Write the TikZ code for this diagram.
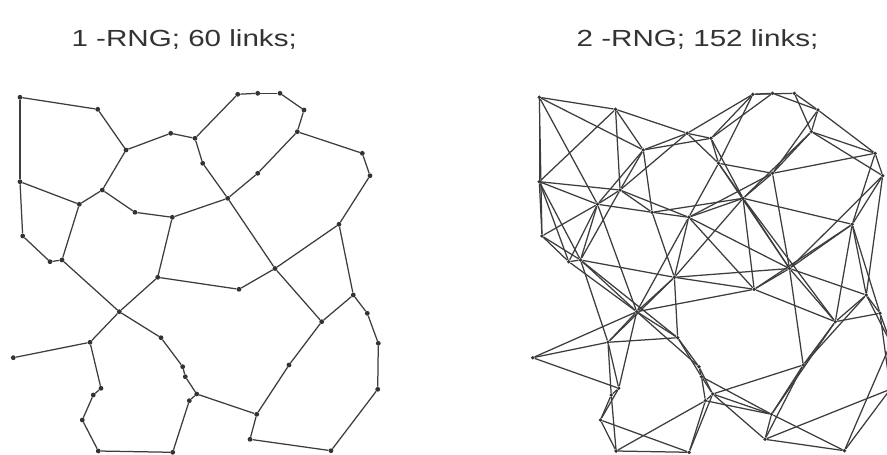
\documentclass[tikz,border=0pt]{standalone}
\usepackage{fontspec}
\setmainfont{Liberation Sans}
\usepackage{graphicx}
\newcount\rngk \newcount\rngcnt
% two nodes are linked in the 2-RNG when they are at most two links apart in the 1-RNG
\def\sqtest#1#2{%
  \rngcnt=0
  \ifcsname adj-#1-#2\endcsname \rngcnt=1 \fi
  \rngk=0
  \loop
    \advance\rngk 1
    \ifcsname adj-#1-\the\rngk\endcsname
      \ifcsname adj-\the\rngk-#2\endcsname \rngcnt=1 \fi
    \fi
  \ifnum\rngk<49 \repeat}
\def\rngpts{200/973,977/1093,1260/1500,1707/1333,1950/1383,200/1817,1023/1900,793/2043,1350/2123,1723/2173,227/2360,500/2617,620/2600,2377/943,2577/933,2800/933,3040/1100,2973/1317,2027/1633,2577/1733,2277/1983,3623/1533,3700/1757,3390/2243,2750/2685,1577/2773,1193/3117,900/3423,133/3577,1610/3377,1827/3667,1853/3767,1967/3940,1893/4007,1010/3883,933/3950,823/4200,983/4510,1727/4523,2390/2893,3533/2950,3217/3217,3673/3133,3783/3433,3777/3893,2890/3650,2567/4143,2500/4393,3310/4507}
\def\rnglinks{1/6,1/2,2/3,3/4,4/5,3/7,7/8,6/8,8/13,6/11,11/12,12/13,7/9,9/10,10/21,5/14,5/19,19/21,21/20,20/18,18/17,17/16,16/15,15/14,18/22,22/23,23/24,24/25,21/25,24/41,10/26,26/40,40/25,25/42,42/41,41/43,43/44,44/45,45/49,49/48,48/47,47/46,46/42,47/33,26/27,13/27,27/28,28/29,27/30,30/31,31/32,32/33,33/34,34/39,39/38,38/37,37/36,36/35,35/28}
\tikzset{
  link/.style={draw=black!76, line width=1.25pt},
  ldot/.style={circle, fill=black!80, inner sep=0pt, minimum size=4.8pt},
  rdot/.style={circle, fill=black!80, inner sep=0pt, minimum size=3.8pt},
  title/.style={anchor=base, text=black!80, font=\fontsize{23.3}{28}\selectfont, inner sep=0pt}
}
\begin{document}
\begin{tikzpicture}[x=1pt,y=-1pt]
\useasboundingbox (0,0) rectangle (887,455);
\fill[white] (0,0) rectangle (887,455);
\node[title] (t1) at (184.2,46.7) {\scalebox{1.27}[1]{1 -RNG; 60 links;}};
\node[title] (t2) at (697.5,46.7) {\scalebox{1.27}[1]{2 -RNG; 152 links;}};
\foreach \x/\y [count=\n] in \rngpts {
  \node[ldot] (l\n) at (\x/10,\y/10) {};
  \node[rdot] (r\n) at ({0.981*\x/10+519.7},\y/10) {};
}
\foreach \a/\b in \rnglinks {
  \draw[link] (l\a) -- (l\b);
  \expandafter\gdef\csname adj-\a-\b\endcsname{}
  \expandafter\gdef\csname adj-\b-\a\endcsname{}
}
\foreach \i in {1,...,48} {
  \pgfmathtruncatemacro\ii{\i+1}
  \foreach \j in {\ii,...,49} {
    \sqtest{\i}{\j}
    \ifnum\rngcnt>0 \draw[link] (r\i) -- (r\j); \fi
  }
}
\end{tikzpicture}
\end{document}
